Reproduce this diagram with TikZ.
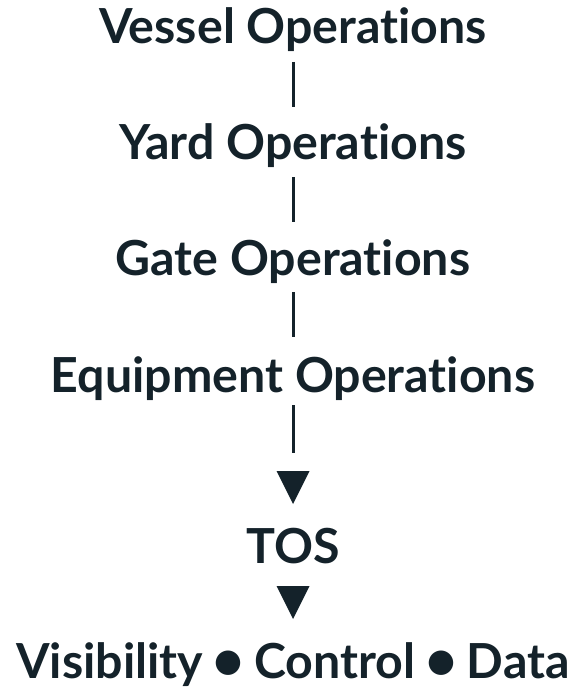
\documentclass[tikz,border=0pt]{standalone}
\usepackage{fontspec}
\setmainfont{Lato}[UprightFont=* Bold, RawFeature=-liga]
\newfontfamily\symfont{DejaVu Sans}
\usetikzlibrary{calc}
\definecolor{ink}{RGB}{20,34,42}
\newcommand{\bigdot}{\raisebox{7pt}{\symfont\fontsize{32}{32}\selectfont ●}}
\tikzset{
  lbl/.style={anchor=base, inner sep=0pt, text=ink, font=\fontsize{48.3}{48.3}\selectfont},
  bar/.style={draw=ink, line width=3pt},
  tri/.style={fill=ink}
}
\begin{document}
\begin{tikzpicture}[x=1pt,y=-1pt]
\useasboundingbox (0,0) rectangle (577,687);
\node[lbl] (v) at (293,44) {Vessel Operations};
\node[lbl] (y) at (293,160) {Yard Operations};
\node[lbl] (g) at (293,275) {Gate Operations};
\node[lbl] (e) at (293,392) {Equipment Operations};
\node[lbl] (t) at (293,563) {TOS};
\node[lbl] (d) at (293,678) {Visibility \bigdot{} Control \bigdot{} Data};
\draw[bar] ($(v.base)+(0,18)$) -- ($(y.base)+(0,-53)$);
\draw[bar] ($(y.base)+(0,17)$) -- ($(g.base)+(0,-53)$);
\draw[bar] ($(g.base)+(0,17)$) -- ($(e.base)+(0,-55)$);
\draw[bar] ($(e.base)+(0,13)$) -- ($(t.base)+(0,-110)$);
\fill[tri] ($(t.base)+(-16.5,-92)$) -- ($(t.base)+(16.5,-92)$) -- ($(t.base)+(0,-59)$) -- cycle;
\fill[tri] ($(d.base)+(-16.5,-92)$) -- ($(d.base)+(16.5,-92)$) -- ($(d.base)+(0,-59)$) -- cycle;
\end{tikzpicture}
\end{document}
